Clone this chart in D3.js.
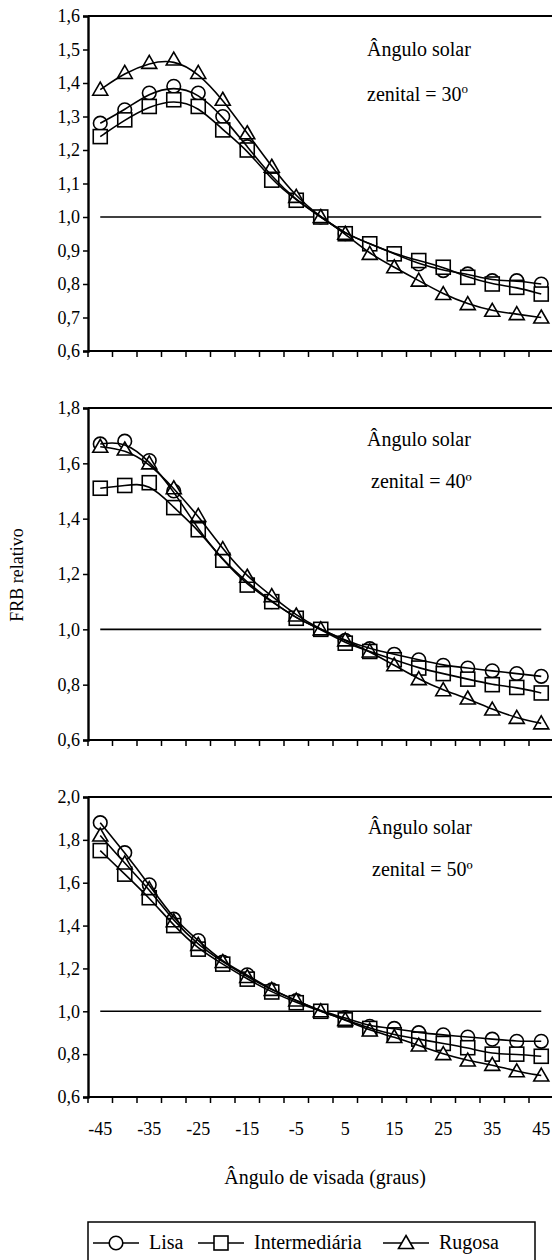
<!DOCTYPE html>
<html><head><meta charset="utf-8">
<script src="https://cdn.jsdelivr.net/npm/d3@7"></script>
<style>body{margin:0;background:#fff}svg{display:block}</style>
</head><body>
<svg id="c" width="552" height="1260"></svg>
<script>
const angles = [-45,-40,-35,-30,-25,-20,-15,-10,-5,0,5,10,15,20,25,30,35,40,45];
const xTickLabels = ["-45","-35","-25","-15","-5","5","15","25","35","45"];
const seriesNames = ["Lisa","Intermediária","Rugosa"];

const lisa30  = [1.28,1.32,1.37,1.39,1.37,1.30,1.21,1.12,1.05,1.00,0.95,0.92,0.89,0.86,0.84,0.83,0.81,0.81,0.80];
const inter30 = [1.24,1.29,1.33,1.35,1.33,1.26,1.20,1.11,1.05,1.00,0.95,0.92,0.89,0.87,0.85,0.82,0.80,0.79,0.77];
const rug30   = [1.38,1.43,1.46,1.47,1.43,1.35,1.25,1.15,1.06,1.00,0.95,0.89,0.85,0.81,0.77,0.74,0.72,0.71,0.70];

const lisa40  = [1.67,1.68,1.61,1.50,1.36,1.25,1.17,1.10,1.04,1.00,0.96,0.93,0.91,0.89,0.87,0.86,0.85,0.84,0.83];
const inter40 = [1.51,1.52,1.53,1.44,1.36,1.25,1.16,1.10,1.04,1.00,0.95,0.92,0.89,0.86,0.84,0.82,0.80,0.79,0.77];
const rug40   = [1.66,1.65,1.60,1.51,1.41,1.29,1.19,1.12,1.05,1.00,0.96,0.92,0.87,0.82,0.78,0.75,0.71,0.68,0.66];

const lisa50  = [1.88,1.74,1.59,1.43,1.33,1.23,1.17,1.10,1.05,1.00,0.97,0.93,0.92,0.90,0.89,0.88,0.87,0.86,0.86];
const inter50 = [1.75,1.64,1.53,1.40,1.29,1.22,1.15,1.09,1.04,1.00,0.96,0.92,0.89,0.87,0.85,0.83,0.80,0.80,0.79];
const rug50   = [1.82,1.69,1.57,1.42,1.31,1.23,1.16,1.10,1.05,1.00,0.96,0.91,0.88,0.84,0.80,0.77,0.75,0.72,0.70];

const yTicks30 = [0.6,0.7,0.8,0.9,1.0,1.1,1.2,1.3,1.4,1.5,1.6];
const yTicks40 = [0.6,0.8,1.0,1.2,1.4,1.6,1.8];
const yTicks50 = [0.6,0.8,1.0,1.2,1.4,1.6,1.8,2.0];

const zenithLabels = ["30","40","50"];

const FONT = "'Liberation Serif'";
const svg = d3.select("#c");
const L = 88, R = 553.5;
const x = d3.scaleBand().domain(angles).range([L, R]).paddingInner(0).paddingOuter(0);
const cx = a => x(a) + x.bandwidth()/2;
const fmt = v => d3.format(".1f")(v).replace(".", ",");

const panels = [
  {top:16, bottom:351, ticks:yTicks30, data:[lisa30,inter30,rug30], z:zenithLabels[0], sup:true, ann:[56,101], ax:367},
  {top:408, bottom:740, ticks:yTicks40, data:[lisa40,inter40,rug40], z:zenithLabels[1], sup:false, ann:[446,488], ax:367},
  {top:797, bottom:1097, ticks:yTicks50, data:[lisa50,inter50,rug50], z:zenithLabels[2], sup:false, ann:[834,876], ax:368}
];

function marker(g, type, px, py) {
  if (type === 0) {
    g.append("circle").attr("cx", px).attr("cy", py).attr("r", 6.8)
      .attr("fill", "#fff").attr("stroke", "#000").attr("stroke-width", 1.6);
  } else if (type === 1) {
    g.append("rect").attr("x", px-7).attr("y", py-7).attr("width", 14).attr("height", 14)
      .attr("fill", "#fff").attr("stroke", "#000").attr("stroke-width", 1.6);
  } else {
    g.append("path").attr("d", `M${px},${py-7.5}L${px+7.5},${py+5.5}L${px-7.5},${py+5.5}Z`)
      .attr("fill", "#fff").attr("stroke", "#000").attr("stroke-width", 1.6);
  }
}

function txt(sel) { return sel.style("font-family", FONT).attr("fill", "#000"); }

panels.forEach((p, pi) => {
  const dom = d3.extent(p.ticks);
  const y = d3.scaleLinear().domain(dom).range([p.bottom, p.top]);
  const g = svg.append("g");

  g.append("line").attr("x1", L).attr("x2", R).attr("y1", p.top).attr("y2", p.top)
    .attr("stroke", "#000").attr("stroke-width", 2);

  const ya = g.append("g").attr("transform", `translate(${L},0)`)
    .call(d3.axisLeft(y).tickValues(p.ticks).tickFormat(fmt).tickSize(5).tickPadding(3));
  ya.attr("font-family", null).attr("font-size", null);
  ya.select(".domain").attr("stroke-width", 2.4);
  ya.selectAll(".tick line").attr("stroke-width", 1.5);
  txt(ya.selectAll("text").attr("font-size", 18));

  const edges = angles.map(a => x(a)).concat([R]);
  g.append("line").attr("x1", L).attr("x2", R).attr("y1", p.bottom).attr("y2", p.bottom)
    .attr("stroke", "#000").attr("stroke-width", 2);
  g.selectAll(".xt").data(edges).enter().append("line")
    .attr("x1", d => d).attr("x2", d => d).attr("y1", p.bottom).attr("y2", p.bottom + 6)
    .attr("stroke", "#000").attr("stroke-width", 1.5);

  g.append("line").attr("x1", cx(angles[0])).attr("x2", cx(angles[angles.length-1]))
    .attr("y1", y(1)).attr("y2", y(1)).attr("stroke", "#000").attr("stroke-width", 1.6);

  p.data.forEach((arr, si) => {
    arr.forEach((v, i) => marker(g, si, cx(angles[i]), y(v)));
  });
  const line = d3.line().x((d, i) => cx(angles[i])).y(d => y(d)).curve(d3.curveBasis);
  p.data.forEach(arr => {
    g.append("path").attr("d", line(arr)).attr("fill", "none")
      .attr("stroke", "#000").attr("stroke-width", 1.6);
  });

  txt(g.append("text").attr("x", p.ax).attr("y", p.ann[0]).attr("font-size", 20).text("Ângulo solar"));
  const t2 = txt(g.append("text").attr("x", p.ax + (p.sup ? 0 : 4)).attr("y", p.ann[1]).attr("font-size", 20));
  if (p.sup) {
    t2.append("tspan").text("zenital = " + p.z);
    t2.append("tspan").attr("dy", -8).attr("font-size", 13).text("o");
  } else {
    t2.text("zenital = " + p.z + "º");
  }

  if (pi === 2) {
    txt(g.selectAll(".xl").data(xTickLabels).enter().append("text")
      .attr("x", d => cx(+d)).attr("y", 1135).attr("text-anchor", "middle")
      .attr("font-size", 18).text(d => d));
  }
});

txt(svg.append("text").attr("x", 325).attr("y", 1184).attr("text-anchor", "middle")
  .attr("font-size", 20).text("Ângulo de visada (graus)"));
txt(svg.append("text").attr("transform", "translate(23,575) rotate(-90)").attr("text-anchor", "middle")
  .attr("font-size", 18).text("FRB relativo"));

const lg = svg.append("g");
lg.append("rect").attr("x", 88).attr("y", 1222).attr("width", 447).attr("height", 60)
  .attr("fill", "#fff").attr("stroke", "#000").attr("stroke-width", 1.5);
const legX = [93, 198, 383];
seriesNames.forEach((n, i) => {
  const lx = legX[i], ly = 1243;
  lg.append("line").attr("x1", lx).attr("x2", lx + 46).attr("y1", ly).attr("y2", ly)
    .attr("stroke", "#000").attr("stroke-width", 1.6);
  marker(lg, i, lx + 23, ly);
  txt(lg.append("text").attr("x", lx + 56).attr("y", ly + 6).attr("font-size", 20).text(n));
});
</script>
</body></html>
